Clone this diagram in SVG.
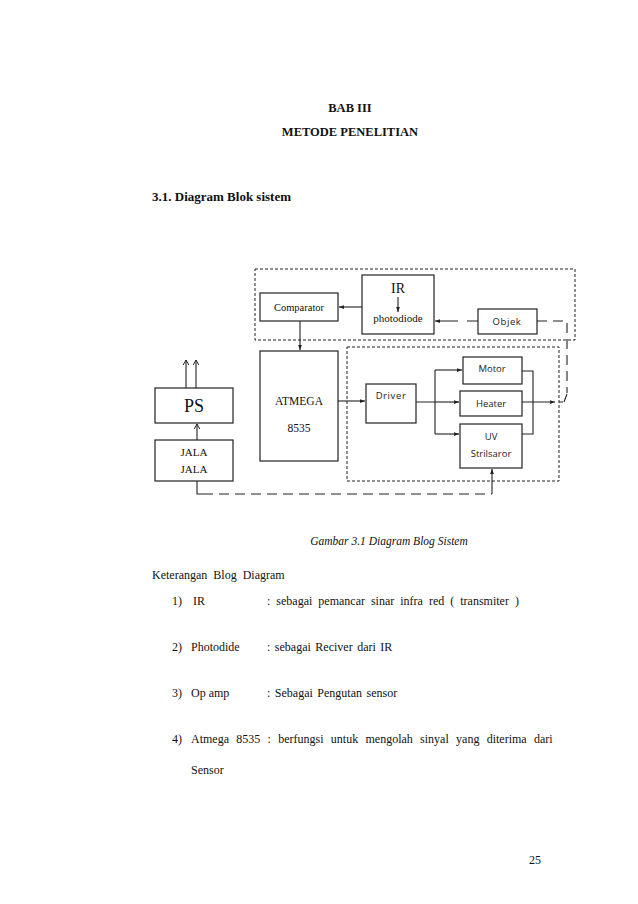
<svg xmlns="http://www.w3.org/2000/svg" width="638" height="904" viewBox="0 0 638 904">
<style>
.serif{font-family:"Liberation Serif","Times New Roman",serif;fill:#111}
.sans{font-family:"Open Sans","Liberation Sans",sans-serif;fill:#222}
.box{fill:#fff;stroke:#222;stroke-width:1.2}
.ln{fill:none;stroke:#222;stroke-width:1.1}
.dbox{fill:none;stroke:#222;stroke-width:1;stroke-dasharray:3,2}
.ldash{fill:none;stroke:#222;stroke-width:1.1;stroke-dasharray:10,6}
.b{font-weight:bold}
</style>
<defs>
<marker id="ah" viewBox="0 0 8 8" refX="8" refY="4" markerWidth="5" markerHeight="5" orient="auto" markerUnits="userSpaceOnUse">
<path d="M0,1 L8,4 L0,7 z" fill="#222"/>
</marker>
<marker id="oh" viewBox="0 0 8 8" refX="7" refY="4" markerWidth="6" markerHeight="6" orient="auto" markerUnits="userSpaceOnUse">
<path d="M0,0 L7,4 L0,8" fill="none" stroke="#222" stroke-width="1.3"/>
</marker>
</defs>
<rect width="638" height="904" fill="#fff"/>

<text class="serif b" x="350" y="112" font-size="12.5" text-anchor="middle">BAB III</text>
<text class="serif b" x="350" y="136" font-size="12.5" text-anchor="middle">METODE PENELITIAN</text>
<text class="serif b" x="152" y="201" font-size="13">3.1. Diagram Blok sistem</text>

<g id="groups">
<rect class="dbox" x="255" y="269" width="320" height="71"/>
<rect class="dbox" x="347" y="347" width="212" height="134"/>
</g>

<g id="connectors">
<line class="ln" x1="362" y1="307" x2="339" y2="307" marker-end="url(#ah)"/>
<line class="ln" x1="300" y1="321" x2="300" y2="350" marker-end="url(#ah)"/>
<line class="ln" x1="338" y1="401" x2="365" y2="401" marker-end="url(#ah)"/>
<path class="ln" d="M416,402 H435 M435,370 V434"/>
<line class="ln" x1="435" y1="370" x2="462" y2="370" marker-end="url(#ah)"/>
<line class="ln" x1="435" y1="402" x2="459" y2="402" marker-end="url(#ah)"/>
<line class="ln" x1="435" y1="434" x2="459" y2="434" marker-end="url(#ah)"/>
<path class="ln" d="M522,371 H533 V434 H522"/>
<line class="ln" x1="522" y1="402" x2="555" y2="402" marker-end="url(#ah)"/>
<path class="ln" d="M478,321 H467 M458,321 H435" marker-end="url(#ah)"/>
<path class="ldash" d="M537,321 H567 V393"/>
<path class="ln" d="M559,402 H563 M564,402 L567,394"/>
<line class="ln" x1="186" y1="388" x2="186" y2="360" marker-end="url(#oh)"/>
<line class="ln" x1="196" y1="388" x2="196" y2="360" marker-end="url(#oh)"/>
<line class="ln" x1="197" y1="440" x2="197" y2="424" marker-end="url(#oh)"/>
<path class="ln" d="M197,481 V494 H203"/>
<path class="ldash" d="M203,494 H492"/>
<line class="ln" x1="492" y1="494" x2="492" y2="469" marker-end="url(#ah)"/>
</g>

<g id="comparator">
<rect class="box" x="260" y="293" width="78" height="28"/>
<text class="serif" x="299" y="311" font-size="10.5" text-anchor="middle">Comparator</text>
</g>
<g id="ir">
<rect class="box" x="362" y="275" width="72" height="59"/>
<text class="serif" x="398" y="293" font-size="14" text-anchor="middle">IR</text>
<line class="ln" x1="398" y1="297" x2="398" y2="312" marker-end="url(#ah)"/>
<text class="serif" x="398" y="322" font-size="11" text-anchor="middle">photodiode</text>
</g>
<g id="objek">
<rect class="box" x="478" y="309" width="59" height="25"/>
<text class="sans" x="507" y="325" font-size="9.5" text-anchor="middle" letter-spacing="0.6">Objek</text>
</g>
<g id="atmega">
<rect class="box" x="260" y="351" width="78" height="110"/>
<text class="serif" x="299" y="405" font-size="11.5" text-anchor="middle">ATMEGA</text>
<text class="serif" x="299" y="432" font-size="11.5" text-anchor="middle">8535</text>
</g>
<g id="ps">
<rect class="box" x="155" y="388" width="78" height="35"/>
<text class="serif" x="194" y="412" font-size="18" text-anchor="middle">PS</text>
</g>
<g id="jala">
<rect class="box" x="155" y="440" width="78" height="41"/>
<text class="serif" x="194" y="456" font-size="11" text-anchor="middle">JALA</text>
<text class="serif" x="194" y="473" font-size="11" text-anchor="middle">JALA</text>
</g>
<g id="driver">
<rect class="box" x="366" y="384" width="50" height="39"/>
<text class="sans" x="391" y="399" font-size="9.5" text-anchor="middle" letter-spacing="0.6">Driver</text>
</g>
<g id="motor">
<rect class="box" x="463" y="357" width="59" height="27"/>
<text class="sans" x="492" y="372" font-size="9.5" text-anchor="middle">Motor</text>
</g>
<g id="heater">
<rect class="box" x="460" y="391" width="62" height="25"/>
<text class="sans" x="491" y="407" font-size="9.5" text-anchor="middle">Heater</text>
</g>
<g id="uv">
<rect class="box" x="460" y="424" width="62" height="44"/>
<text class="sans" x="491" y="440" font-size="9.5" text-anchor="middle">UV</text>
<text class="sans" x="491" y="457" font-size="9.5" text-anchor="middle">Strilsaror</text>
</g>

<text class="serif" x="389" y="545" font-size="11.5" font-style="italic" text-anchor="middle">Gambar 3.1 Diagram Blog Sistem</text>
<text class="serif" x="152" y="579" font-size="12" word-spacing="3">Keterangan Blog Diagram</text>

<text class="serif" x="172" y="605" font-size="12">1)</text>
<text class="serif" x="193" y="605" font-size="12">IR</text>
<text class="serif" x="267" y="605" font-size="12" word-spacing="3">: sebagai pemancar sinar infra red ( transmiter  )</text>

<text class="serif" x="172" y="651" font-size="12">2)</text>
<text class="serif" x="191" y="651" font-size="12">Photodide</text>
<text class="serif" x="267" y="651" font-size="12" word-spacing="1.5">: sebagai Reciver dari IR</text>

<text class="serif" x="172" y="697" font-size="12">3)</text>
<text class="serif" x="191" y="697" font-size="12">Op amp</text>
<text class="serif" x="267" y="697" font-size="12" word-spacing="1.5">: Sebagai Pengutan sensor</text>

<text class="serif" x="172" y="743" font-size="12">4)</text>
<text class="serif" x="191" y="743" font-size="12" word-spacing="4.3">Atmega 8535 : berfungsi untuk mengolah sinyal yang diterima dari</text>
<text class="serif" x="191" y="774" font-size="12">Sensor</text>

<text class="serif" x="535" y="864" font-size="12" text-anchor="middle">25</text>
</svg>
